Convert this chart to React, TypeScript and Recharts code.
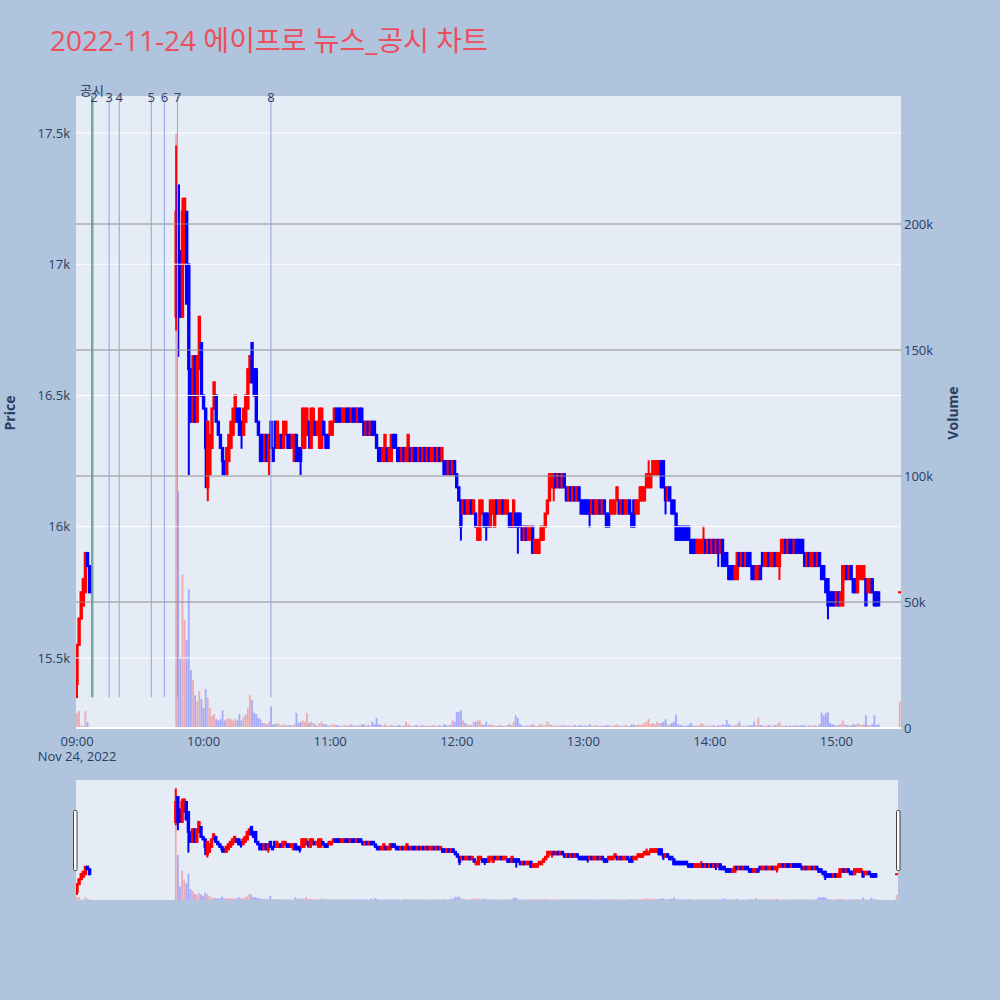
import React from 'react';
import { ComposedChart, Bar, XAxis, YAxis, ReferenceLine, ReferenceDot } from 'recharts';

// ---------------- data ----------------
const chartTitle = '2022-11-24 에이프로 뉴스_공시 차트';
const dateLabel = 'Nov 24, 2022';

// minutes after 09:00 that have a candle (trading halted 09:07-09:46)
const sessionRanges: [number, number][] = [[0, 6], [47, 380], [390, 390]];

const opens = [
  15400, 15550, 15650, 15700, 15750, 15900, 15850,
  16800, 17300, 17050, 16800, 17000, 17200, 17000, 16600, 16400, 16650,
  16400, 16600, 16700, 16500, 16450, 16150, 16200, 16300, 16450, 16500,
  16400, 16350, 16300, 16250, 16200, 16250, 16300, 16350, 16400, 16450,
  16450, 16400, 16350, 16400, 16450, 16550, 16700, 16600, 16600, 16400,
  16350, 16350, 16250, 16350, 16250, 16400, 16300, 16400, 16300, 16300,
  16350, 16300, 16350, 16350, 16350, 16300, 16250, 16350, 16300, 16300,
  16300, 16300, 16350, 16400, 16300, 16350, 16400, 16350, 16300, 16300,
  16400, 16350, 16350, 16350, 16350, 16400, 16450, 16450, 16450, 16400,
  16400, 16450, 16450, 16400, 16450, 16450, 16400, 16450, 16450, 16400,
  16350, 16400, 16350, 16400, 16400, 16350, 16300, 16300, 16250, 16250,
  16300, 16250, 16250, 16350, 16350, 16300, 16300, 16250, 16300, 16250,
  16250, 16300, 16250, 16300, 16300, 16250, 16300, 16250, 16300, 16250,
  16300, 16250, 16250, 16300, 16250, 16300, 16250, 16250, 16250, 16200,
  16250, 16200, 16250, 16200, 16150, 16100, 16050, 16100, 16050, 16050,
  16100, 16050, 16050, 15950, 15950, 16050, 16050, 16050, 16050, 16000,
  16050, 16000, 16100, 16050, 16050, 16100, 16050, 16050, 16050, 16050,
  16000, 16050, 16050, 16050, 16000, 15950, 16000, 15950, 15950, 16000,
  15900, 15900, 15900, 15950, 15950, 16000, 16050, 16100, 16150, 16150,
  16200, 16150, 16200, 16150, 16200, 16150, 16100, 16150, 16100, 16150,
  16100, 16150, 16100, 16100, 16100, 16100, 16100, 16050, 16100, 16050,
  16050, 16100, 16050, 16100, 16050, 16050, 16050, 16050, 16050, 16100,
  16100, 16050, 16100, 16050, 16050, 16100, 16050, 16100, 16050, 16050,
  16100, 16100, 16100, 16150, 16150, 16150, 16200, 16200, 16200, 16200,
  16250, 16250, 16150, 16100, 16150, 16100, 16100, 16050, 16000, 16000,
  16000, 16000, 16000, 16000, 15950, 15950, 15950, 15900, 15900, 15900,
  15900, 15950, 15900, 15950, 15900, 15950, 15900, 15950, 15900, 15950,
  15900, 15900, 15850, 15850, 15850, 15800, 15800, 15900, 15850, 15900,
  15850, 15900, 15900, 15850, 15850, 15800, 15800, 15850, 15900, 15850,
  15850, 15900, 15850, 15850, 15900, 15850, 15850, 15900, 15900, 15950,
  15900, 15950, 15950, 15900, 15950, 15950, 15950, 15950, 15900, 15850,
  15900, 15850, 15850, 15900, 15850, 15900, 15850, 15850, 15800, 15800,
  15750, 15750, 15750, 15700, 15750, 15700, 15700, 15800, 15850, 15800,
  15850, 15800, 15800, 15750, 15800, 15800, 15800, 15800, 15750, 15750,
  15800, 15750, 15750, 15750,
  15750,
];

const closes = [
  15550, 15650, 15750, 15800, 15900, 15850, 15750,
  17200, 16800, 16800, 17200, 17250, 16850, 16600, 16400, 16650, 16400,
  16650, 16800, 16500, 16450, 16300, 16400, 16350, 16450, 16550, 16400,
  16350, 16300, 16250, 16200, 16300, 16350, 16400, 16450, 16500, 16400,
  16350, 16350, 16450, 16500, 16600, 16650, 16550, 16500, 16400, 16350,
  16250, 16250, 16350, 16250, 16350, 16300, 16250, 16300, 16400, 16350,
  16300, 16400, 16400, 16300, 16300, 16350, 16350, 16250, 16250, 16250,
  16450, 16450, 16450, 16350, 16450, 16450, 16350, 16400, 16450, 16450,
  16350, 16300, 16300, 16400, 16400, 16450, 16400, 16400, 16400, 16450,
  16450, 16400, 16400, 16450, 16400, 16400, 16450, 16400, 16400, 16350,
  16400, 16350, 16400, 16350, 16350, 16300, 16250, 16250, 16300, 16350,
  16250, 16300, 16350, 16300, 16300, 16250, 16250, 16300, 16250, 16300,
  16350, 16250, 16300, 16250, 16250, 16300, 16250, 16300, 16250, 16300,
  16250, 16300, 16300, 16250, 16300, 16250, 16300, 16200, 16200, 16250,
  16200, 16250, 16200, 16150, 16100, 16000, 16100, 16050, 16100, 16100,
  16050, 16100, 16000, 16000, 16100, 16100, 16000, 16000, 16000, 16100,
  16100, 16100, 16050, 16100, 16100, 16050, 16100, 16100, 16000, 16000,
  16100, 16000, 16000, 16000, 15950, 16000, 15950, 16000, 16000, 15900,
  15950, 15950, 15950, 16000, 16000, 16050, 16100, 16200, 16200, 16200,
  16150, 16200, 16150, 16200, 16150, 16100, 16150, 16100, 16150, 16100,
  16150, 16100, 16050, 16050, 16050, 16050, 16050, 16100, 16050, 16100,
  16100, 16050, 16100, 16050, 16000, 16000, 16100, 16100, 16100, 16150,
  16050, 16100, 16050, 16100, 16100, 16050, 16000, 16000, 16100, 16100,
  16150, 16150, 16150, 16200, 16200, 16200, 16250, 16250, 16250, 16250,
  16150, 16150, 16100, 16150, 16100, 16050, 16050, 15950, 15950, 15950,
  15950, 15950, 15950, 15950, 15900, 15900, 15900, 15950, 15950, 15950,
  15950, 15900, 15950, 15900, 15950, 15900, 15950, 15900, 15950, 15850,
  15850, 15850, 15800, 15800, 15800, 15850, 15900, 15850, 15900, 15850,
  15900, 15850, 15850, 15800, 15800, 15850, 15850, 15800, 15850, 15900,
  15900, 15850, 15900, 15900, 15850, 15900, 15900, 15950, 15950, 15900,
  15950, 15900, 15900, 15950, 15900, 15900, 15900, 15900, 15850, 15900,
  15850, 15900, 15900, 15850, 15900, 15850, 15800, 15800, 15750, 15700,
  15700, 15700, 15700, 15750, 15700, 15750, 15850, 15850, 15800, 15850,
  15800, 15750, 15750, 15850, 15850, 15850, 15850, 15700, 15800, 15800,
  15750, 15700, 15700, 15700,
  15750,
];

const volumes = [
  6000, 6700, 1000, 800, 6700, 2400, 600,
  236000, 94000, 28000, 61000, 43000, 35000, 55000, 23000, 19000, 13000,
  10700, 14700, 11500, 8000, 15500, 12000, 8000, 4800, 5500, 3500,
  3000, 3500, 7000, 3000, 3500, 4000, 3500, 3000, 3500, 3000,
  5500, 3000, 4500, 5500, 8000, 13000, 11000, 6000, 5500, 4000,
  3500, 2000, 2000, 1500, 2500, 8500, 1500, 1500, 2000, 1500,
  1000, 1500, 1000, 1000, 1200, 1000, 1500, 6000, 2000, 2500,
  3000, 2500, 6000, 2000, 2500, 2000, 1500, 1000, 2000, 2500,
  1500, 1500, 1000, 1000, 1500, 1500, 1200, 1000, 800, 1000,
  1200, 800, 1000, 1500, 1000, 800, 1200, 1000, 1500, 1500,
  1000, 1200, 1000, 2500, 1500, 4000, 1500, 1200, 1000, 1500,
  800, 1000, 1200, 1000, 800, 1000, 1200, 800, 1000, 2500,
  1500, 1000, 800, 1000, 1200, 800, 1000, 1200, 800, 1000,
  800, 1000, 1200, 800, 1000, 1200, 800, 1500, 1200, 1000,
  1200, 3000, 2500, 6400, 6400, 7000, 3000, 2000, 1500, 1200,
  1000, 2500, 2500, 3000, 3000, 1500, 1200, 2500, 1000, 1500,
  1200, 1000, 800, 1200, 1000, 800, 1000, 1200, 1500, 1000,
  2500, 5000, 4000, 1500, 1000, 800, 1000, 800, 1200, 1500,
  1000, 800, 1200, 1500, 1000, 1200, 2600, 1500, 1200, 1000,
  800, 1000, 800, 1200, 1000, 800, 1000, 800, 1000, 1200,
  800, 1000, 1200, 800, 1000, 800, 1500, 1000, 800, 1200,
  1000, 800, 1000, 800, 1200, 1000, 800, 1000, 1200, 1500,
  800, 1000, 800, 1200, 1000, 800, 1500, 1200, 1000, 1500,
  1200, 1500, 2000, 2500, 3500, 1500, 2000, 1500, 2500, 2000,
  2000, 2500, 3500, 1500, 1200, 2000, 2500, 5300, 1500, 1200,
  1000, 800, 1000, 1200, 2000, 1000, 800, 1000, 1200, 2000,
  1500, 800, 1000, 800, 1200, 1000, 800, 1200, 1000, 1500,
  1200, 3300, 1500, 1000, 800, 1200, 1500, 2500, 1000, 800,
  1000, 800, 1200, 1000, 2500, 1000, 4000, 1200, 1000, 800,
  1000, 1200, 800, 1000, 1200, 1500, 2500, 1000, 800, 1000,
  800, 1000, 800, 1200, 1000, 800, 1000, 1200, 1000, 800,
  1000, 800, 1200, 1000, 800, 1500, 6000, 5000, 6000, 6200,
  2000, 1500, 1200, 1000, 1200, 1500, 3000, 1500, 1200, 1000,
  1000, 1500, 1200, 2000, 1500, 1200, 1500, 5000, 1200, 1000,
  1500, 5000, 1200, 1500,
  10600,
];

// wicks that reach beyond the candle body: [minute, price]
const upperWicks: [number, number][] = [[47, 17450], [50, 17250], [271, 16250], [297, 16000]];
const lowerWicks: [number, number][] = [
  [0, 15350], [47, 16750], [48, 16650], [53, 16200], [61, 16150], [62, 16100], [69, 16200],
  [78, 16300], [91, 16200], [106, 16200], [110, 16300], [182, 15950], [194, 15950], [209, 15900],
  [226, 16100], [243, 16000], [279, 16050], [304, 15850], [333, 15800], [356, 15650],
];

// announcements (minutes after 09:00)
const noticeTimes = [7.1, 7.6, 15.2, 20, 35.2, 41.4, 47.6, 91.9];
const noticeLabels = ['공시', '2', '3', '4', '5', '6', '7', '8'];
const noticeColors = ['#3f9a48', '#8ea3ec', '#8ea3ec', '#8ea3ec', '#8ea3ec', '#8ea3ec', '#8ea3ec', '#8ea3ec'];
const noticeLow = 15350;

const priceTicks = [15500, 16000, 16500, 17000, 17500];
const volumeTicks = [0, 50000, 100000, 150000, 200000];
const volumeGrid = [50000, 100000, 150000, 200000];
const timeTicks = [0, 60, 120, 180, 240, 300, 360];
const timeLabels = ['09:00', '10:00', '11:00', '12:00', '13:00', '14:00', '15:00'];

const PRICE_DOMAIN: [number, number] = [15233, 17641];
const VOL_DOMAIN: [number, number] = [0, 250800];
const X_DOMAIN: [number, number] = [-0.5, 390.6];

// ---------------- styling ----------------
const UP = '#FF0000';
const DOWN = '#0000FF';
const AXIS = '#2a3f5f';
const PLOT_BG = '#E5ECF6';
const PAPER_BG = '#B0C4DE';
const FONT = '"Open Sans", "Noto Sans CJK KR", sans-serif';

const minutes: number[] = sessionRanges.flatMap(([a, b]) =>
  Array.from({ length: b - a + 1 }, (_, i) => a + i)
);

const rows = minutes.map((m, i) => {
  const o = opens[i];
  const c = closes[i];
  const hw = upperWicks.find((w) => w[0] === m);
  const lw = lowerWicks.find((w) => w[0] === m);
  const high = Math.max(o, c, hw ? hw[1] : -Infinity);
  const low = Math.min(o, c, lw ? lw[1] : Infinity);
  return {
    t: m,
    open: o,
    close: c,
    high,
    low,
    range: [low, high === low ? high + 1 : high],
    volume: volumes[i],
    up: c >= o,
  };
});

const CandleShape = (props: any) => {
  const { x, y, width, height, payload } = props;
  if (!payload || x == null || y == null) return null;
  const top = Math.min(y, y + height);
  const h = Math.abs(height);
  const lo = payload.range[0];
  const hi = payload.range[1];
  const k = h / (hi - lo);
  const yOf = (v: number) => top + (hi - v) * k;
  const cx = x + width / 2;
  const color = payload.up ? UP : DOWN;
  const bTop = yOf(Math.max(payload.open, payload.close));
  const bBot = yOf(Math.min(payload.open, payload.close));
  const wTop = yOf(payload.high);
  const wBot = yOf(payload.low);
  return (
    <g>
      <rect x={cx - 1} y={wTop - 0.8} width={2} height={wBot - wTop + 1.6} fill={color} />
      <rect x={cx - 1.7} y={bTop - 1} width={3.4} height={bBot - bTop + 2} fill={color} />
    </g>
  );
};

const VolumeShape = (props: any) => {
  const { x, y, width, height, payload } = props;
  if (!payload || x == null || y == null) return null;
  const top = Math.min(y, y + height);
  const h = Math.abs(height);
  const cx = x + width / 2;
  return <rect x={cx - 0.9} y={top} width={1.8} height={h} fill={payload.up ? UP : DOWN} fillOpacity={0.28} />;
};

const TimeTick = (props: any) => {
  const { x, y, payload } = props;
  const idx = timeTicks.indexOf(payload.value);
  return (
    <g>
      <text x={x} y={y + 18} textAnchor="middle" fill={AXIS} fontSize={13}>
        {timeLabels[idx]}
      </text>
      {idx === 0 && (
        <text x={x} y={y + 33} textAnchor="middle" fill={AXIS} fontSize={13}>
          {dateLabel}
        </text>
      )}
    </g>
  );
};

const fmtPrice = (v: number) => `${v / 1000}k`;
const fmtVol = (v: number) => (v === 0 ? '0' : `${v / 1000}k`);

export default function App() {
  return (
    <div
      style={{
        position: 'absolute',
        left: 0,
        top: 0,
        width: 1000,
        height: 1000,
        background: PAPER_BG,
        fontFamily: FONT,
        overflow: 'hidden',
      }}
    >
      <div style={{ position: 'absolute', left: 76, top: 96, width: 825, height: 632, background: PLOT_BG }} />
      <div style={{ position: 'absolute', left: 0, top: 0 }}>
        <ComposedChart width={1000} height={780} data={rows} margin={{ top: 96, right: 39, bottom: 22, left: 16 }}>
          <XAxis
            xAxisId="t"
            dataKey="t"
            type="number"
            domain={X_DOMAIN}
            ticks={timeTicks}
            interval={0}
            allowDataOverflow
            axisLine={false}
            tickLine={false}
            tickSize={0}
            tickMargin={0}
            height={30}
            tick={<TimeTick />}
          />
          <XAxis xAxisId="tv" dataKey="t" type="number" domain={X_DOMAIN} allowDataOverflow hide />
          <YAxis
            yAxisId="price"
            domain={PRICE_DOMAIN}
            ticks={priceTicks}
            interval={0}
            allowDataOverflow
            width={60}
            axisLine={false}
            tickLine={false}
            tickSize={0}
            tickMargin={6}
            tickFormatter={fmtPrice}
            tick={{ fill: AXIS, fontSize: 13 }}
          />
          <YAxis
            yAxisId="vol"
            orientation="right"
            domain={VOL_DOMAIN}
            ticks={volumeTicks}
            interval={0}
            allowDataOverflow
            width={60}
            axisLine={false}
            tickLine={false}
            tickSize={0}
            tickMargin={3}
            tickFormatter={fmtVol}
            tick={{ fill: AXIS, fontSize: 13, textAnchor: 'start' }}
          />
          {priceTicks.map((v) => (
            <ReferenceLine key={`pg${v}`} xAxisId="t" yAxisId="price" y={v} stroke="#ffffff" strokeWidth={1} />
          ))}
          {volumeGrid.map((v) => (
            <ReferenceLine key={`vg${v}`} xAxisId="t" yAxisId="vol" y={v} stroke="#8c8c8c" strokeWidth={1} />
          ))}
          <ReferenceLine xAxisId="t" yAxisId="vol" y={0} stroke="#ffffff" strokeWidth={2} />
          <Bar xAxisId="tv" yAxisId="vol" dataKey="volume" barSize={2} shape={VolumeShape} isAnimationActive={false} />
          <Bar xAxisId="t" yAxisId="price" dataKey="range" barSize={2} shape={CandleShape} isAnimationActive={false} />
          {noticeTimes.map((t, i) => (
            <ReferenceLine
              key={`nl${i}`}
              xAxisId="t"
              yAxisId="price"
              segment={[{ x: t, y: noticeLow }, { x: t, y: PRICE_DOMAIN[1] }]}
              stroke={noticeColors[i]}
              strokeWidth={i === 0 ? 1.5 : 1}
              ifOverflow="visible"
            />
          ))}
          {noticeTimes.map((t, i) => (
            <ReferenceDot
              key={`nd${i}`}
              xAxisId="t"
              yAxisId="price"
              x={t}
              y={PRICE_DOMAIN[1]}
              r={0}
              ifOverflow="visible"
              shape={(p: any) => (
                <text
                  x={p.cx + (i === 1 ? 1 : 0)}
                  y={i === 0 ? p.cy - 1 : p.cy + 6}
                  textAnchor="middle"
                  fill={AXIS}
                  fontSize={13}
                >
                  {noticeLabels[i]}
                </text>
              )}
            />
          ))}
        </ComposedChart>
      </div>

      <div style={{ position: 'absolute', left: 76, top: 780, width: 822, height: 120, background: PLOT_BG }}>
        <ComposedChart width={822} height={120} data={rows} margin={{ top: 0, right: 0, bottom: 0, left: 0 }}>
          <XAxis xAxisId="t" dataKey="t" type="number" domain={X_DOMAIN} allowDataOverflow hide />
          <XAxis xAxisId="tv" dataKey="t" type="number" domain={X_DOMAIN} allowDataOverflow hide />
          <YAxis yAxisId="price" domain={PRICE_DOMAIN} allowDataOverflow hide />
          <YAxis yAxisId="vol" domain={VOL_DOMAIN} allowDataOverflow hide />
          <Bar xAxisId="tv" yAxisId="vol" dataKey="volume" barSize={2} shape={VolumeShape} isAnimationActive={false} />
          <Bar xAxisId="t" yAxisId="price" dataKey="range" barSize={2} shape={CandleShape} isAnimationActive={false} />
        </ComposedChart>
      </div>

      <svg
        width={1000}
        height={1000}
        style={{ position: 'absolute', left: 0, top: 0, pointerEvents: 'none' }}
      >
        <text x={50} y={51} fontSize={28} fill="#EC4F5C" fontFamily={FONT}>
          {chartTitle}
        </text>
        <text transform="translate(15,413) rotate(-90)" textAnchor="middle" fontSize={14} fontWeight="bold" fill={AXIS}>
          Price
        </text>
        <text transform="translate(958,413) rotate(-90)" textAnchor="middle" fontSize={14} fontWeight="bold" fill={AXIS}>
          Volume
        </text>
        <rect x={73.5} y={810.5} width={3.5} height={60} rx={1} fill="#ffffff" stroke="#444444" strokeWidth={1} />
        <rect x={896.5} y={810.5} width={3.5} height={60} rx={1} fill="#ffffff" stroke="#444444" strokeWidth={1} />
      </svg>
    </div>
  );
}
